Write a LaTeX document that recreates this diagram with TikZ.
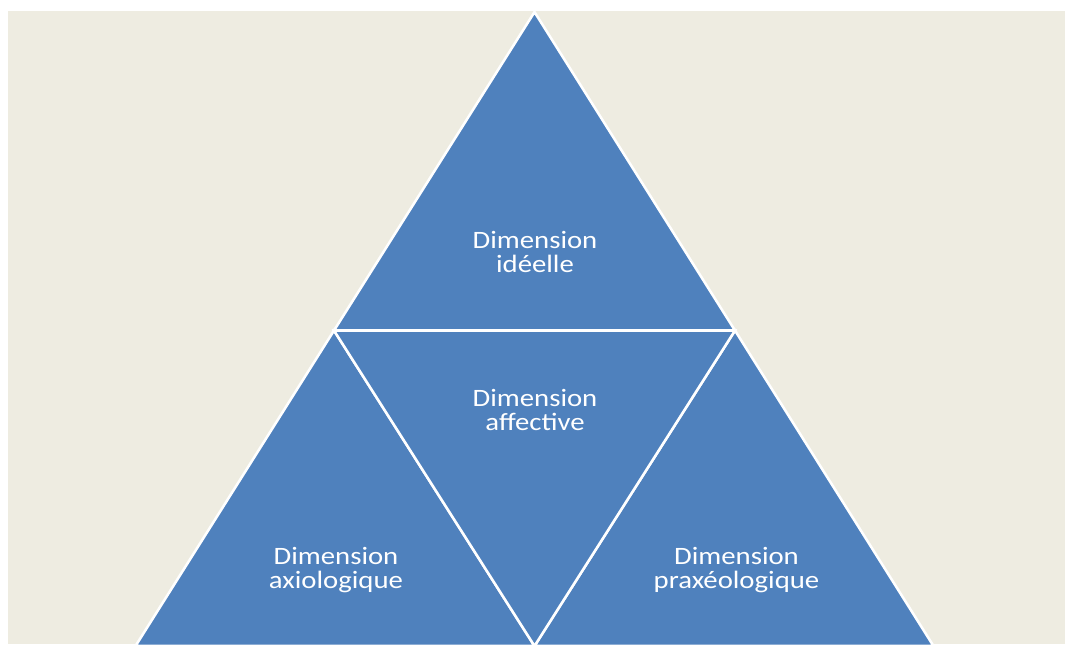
\documentclass[tikz,border=0pt]{standalone}
\usepackage{fontspec}
\setmainfont{Carlito}[FakeStretch=1.15]
\definecolor{paperTan}{HTML}{EEECE1}
\definecolor{facetBlue}{HTML}{4F81BD}
\tikzset{
  facet/.style={fill=facetBlue, draw=white, line width=1.9pt, line join=miter},
  dimLabel/.style={text=white, align=center, inner sep=0pt, font=\fontsize{18.75}{18.5}\selectfont}
}
\begin{document}
\begin{tikzpicture}[x=0.75pt, y=-0.75pt]
\useasboundingbox (0,0) rectangle (1065,644);
\clip (0,0) rectangle (1065,644);
\fill[white] (0,0) rectangle (1065,644);
\fill[paperTan] (8,11) rectangle (1065,644);

	% corners of the pyramid
	\coordinate (apexTop) at (534.5,12);
	\coordinate (midLeft) at (334,330.5);
	\coordinate (midRight) at (735,330.5);
	\coordinate (baseLeft) at (135.5,646);
	\coordinate (baseMid) at (534.5,646);
	\coordinate (baseRight) at (933.5,646);

	% the four facets
	\draw[facet] (apexTop) -- (midLeft) -- (midRight) -- cycle;
	\draw[facet] (midLeft) -- (baseLeft) -- (baseMid) -- cycle;
	\draw[facet] (midRight) -- (baseMid) -- (baseRight) -- cycle;
	\draw[facet] (midLeft) -- (midRight) -- (baseMid) -- cycle;

	\node[dimLabel](ideelleLabel) at (535,252){Dimension\\idéelle};
	\node[dimLabel](affectiveLabel) at (535,410){Dimension\\affective};
	\node[dimLabel](axiologiqueLabel) at (336,570){Dimension\\axiologique};
	\node[dimLabel](praxeologiqueLabel) at (736.5,570){Dimension\\praxéologique};
\end{tikzpicture}
\end{document}
